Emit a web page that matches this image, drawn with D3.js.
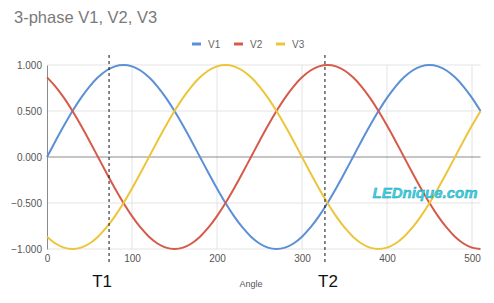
<!DOCTYPE html>
<html>
<head>
<meta charset="utf-8">
<script src="https://cdn.jsdelivr.net/npm/d3@7"></script>
<style>
  body { margin: 0; background: #fff; }
  svg { font-family: Arial, "Liberation Sans", sans-serif; }
</style>
</head>
<body>
<svg id="chart"></svg>
<script>
const angles = [0, 10, 20, 30, 40, 50, 60, 70, 80, 90, 100, 110, 120, 130, 140, 150, 160, 170, 180,
  190, 200, 210, 220, 230, 240, 250, 260, 270, 280, 290, 300, 310, 320, 330, 340, 350, 360,
  370, 380, 390, 400, 410, 420, 430, 440, 450, 460, 470, 480, 490, 500, 510];

const v1 = [0, .174, .342, .5, .643, .766, .866, .94, .985, 1, .985, .94, .866, .766, .643, .5, .342, .174, 0,
  -.174, -.342, -.5, -.643, -.766, -.866, -.94, -.985, -1, -.985, -.94, -.866, -.766, -.643, -.5, -.342, -.174, 0,
  .174, .342, .5, .643, .766, .866, .94, .985, 1, .985, .94, .866, .766, .643, .5];

const v2 = [.866, .766, .643, .5, .342, .174, 0, -.174, -.342, -.5, -.643, -.766, -.866, -.94, -.985, -1, -.985, -.94, -.866,
  -.766, -.643, -.5, -.342, -.174, 0, .174, .342, .5, .643, .766, .866, .94, .985, 1, .985, .94, .866,
  .766, .643, .5, .342, .174, 0, -.174, -.342, -.5, -.643, -.766, -.866, -.94, -.985, -1];

const v3 = [-.866, -.94, -.985, -1, -.985, -.94, -.866, -.766, -.643, -.5, -.342, -.174, 0, .174, .342, .5, .643, .766, .866,
  .94, .985, 1, .985, .94, .866, .766, .643, .5, .342, .174, 0, -.174, -.342, -.5, -.643, -.766, -.866,
  -.94, -.985, -1, -.985, -.94, -.866, -.766, -.643, -.5, -.342, -.174, 0, .174, .342, .5];

const seriesNames = ["V1", "V2", "V3"];
const seriesColors = ["#5b8fd6", "#d65a4a", "#ecc53a"];
const xTicks = [0, 100, 200, 300, 400, 500];
const yTicks = [-1, -0.5, 0, 0.5, 1];
const markerLabels = ["T1", "T2"];
const markerAngles = [73, 327];

const W = 494, H = 303;
const svg = d3.select("#chart").attr("width", W).attr("height", H);

const x = d3.scaleLinear().domain([0, 510]).range([47, 480.5]);
const y = d3.scaleLinear().domain([-1, 1]).range([249, 65]);

// title
svg.append("text")
  .attr("x", 14).attr("y", 23)
  .style("font-size", "16.5px")
  .style("fill", "#7a7a7a")
  .text("3-phase V1, V2, V3");

// grid
svg.append("g").selectAll("line")
  .data(xTicks.filter(d => d > 0))
  .enter().append("line")
  .attr("x1", d => x(d)).attr("x2", d => x(d))
  .attr("y1", y(1)).attr("y2", y(-1))
  .attr("stroke", "#e3e3e3");

svg.append("g").selectAll("line")
  .data(yTicks.filter(d => d !== 0))
  .enter().append("line")
  .attr("x1", x(0)).attr("x2", x(510))
  .attr("y1", d => y(d)).attr("y2", d => y(d))
  .attr("stroke", "#e3e3e3");

// axes
const yAxis = svg.append("g")
  .attr("transform", `translate(${x(0)},0)`)
  .call(d3.axisLeft(y).tickValues(yTicks).tickSize(0).tickPadding(5).tickFormat(d3.format(".3f")));
yAxis.select(".domain").attr("stroke", "#8a8a8a");
yAxis.selectAll("text").style("font-size", "10px").style("fill", "#555").style("font-family", "Arial, sans-serif");

const xAxis = svg.append("g")
  .attr("transform", `translate(0,${y(-1)})`)
  .call(d3.axisBottom(x).tickValues(xTicks).tickSize(0).tickPadding(6).tickFormat(d3.format("d")));
xAxis.select(".domain").remove();
xAxis.selectAll("text").style("font-size", "10px").style("fill", "#555").style("font-family", "Arial, sans-serif");

svg.append("line")
  .attr("x1", x(0)).attr("x2", x(510))
  .attr("y1", y(0)).attr("y2", y(0))
  .attr("stroke", "#8a8a8a");

svg.append("text")
  .attr("x", 251).attr("y", 287)
  .attr("text-anchor", "middle")
  .style("font-size", "9px")
  .style("fill", "#555")
  .text("Angle");

// lines
const series = [v1, v2, v3];
const line = d3.line()
  .x((d, i) => x(angles[i]))
  .y(d => y(d))
  .curve(d3.curveMonotoneX);

svg.append("g").selectAll("path")
  .data(series)
  .enter().append("path")
  .attr("d", d => line(d))
  .attr("fill", "none")
  .attr("stroke", (d, i) => seriesColors[i])
  .attr("stroke-width", 2);

// legend
const legend = svg.append("g").selectAll("g")
  .data(seriesNames)
  .enter().append("g")
  .attr("transform", (d, i) => `translate(${192 + i * 42},44)`);
legend.append("line")
  .attr("x1", 0).attr("x2", 9)
  .attr("stroke", (d, i) => seriesColors[i])
  .attr("stroke-width", 3);
legend.append("text")
  .attr("x", 16).attr("y", 4)
  .style("font-size", "10px")
  .style("fill", "#666")
  .text(d => d);

// markers
const labelShift = [-7, 3];
const mk = svg.append("g").selectAll("g")
  .data(markerAngles)
  .enter().append("g");
mk.append("line")
  .attr("x1", d => x(d)).attr("x2", d => x(d))
  .attr("y1", 55).attr("y2", 265)
  .attr("stroke", "#111")
  .attr("stroke-dasharray", "3,3");
mk.append("text")
  .attr("x", (d, i) => x(d) + labelShift[i]).attr("y", 287)
  .attr("text-anchor", "middle")
  .style("font-size", "17px")
  .style("fill", "#111")
  .text((d, i) => markerLabels[i]);

// watermark
svg.append("text")
  .attr("x", 425).attr("y", 198)
  .attr("text-anchor", "middle")
  .style("font-size", "15px")
  .style("font-style", "italic")
  .style("font-weight", "bold")
  .style("fill", "#3fd0e0")
  .style("stroke", "#1a9db0")
  .style("stroke-width", 0.4)
  .text("LEDnique.com");
</script>
</body>
</html>
